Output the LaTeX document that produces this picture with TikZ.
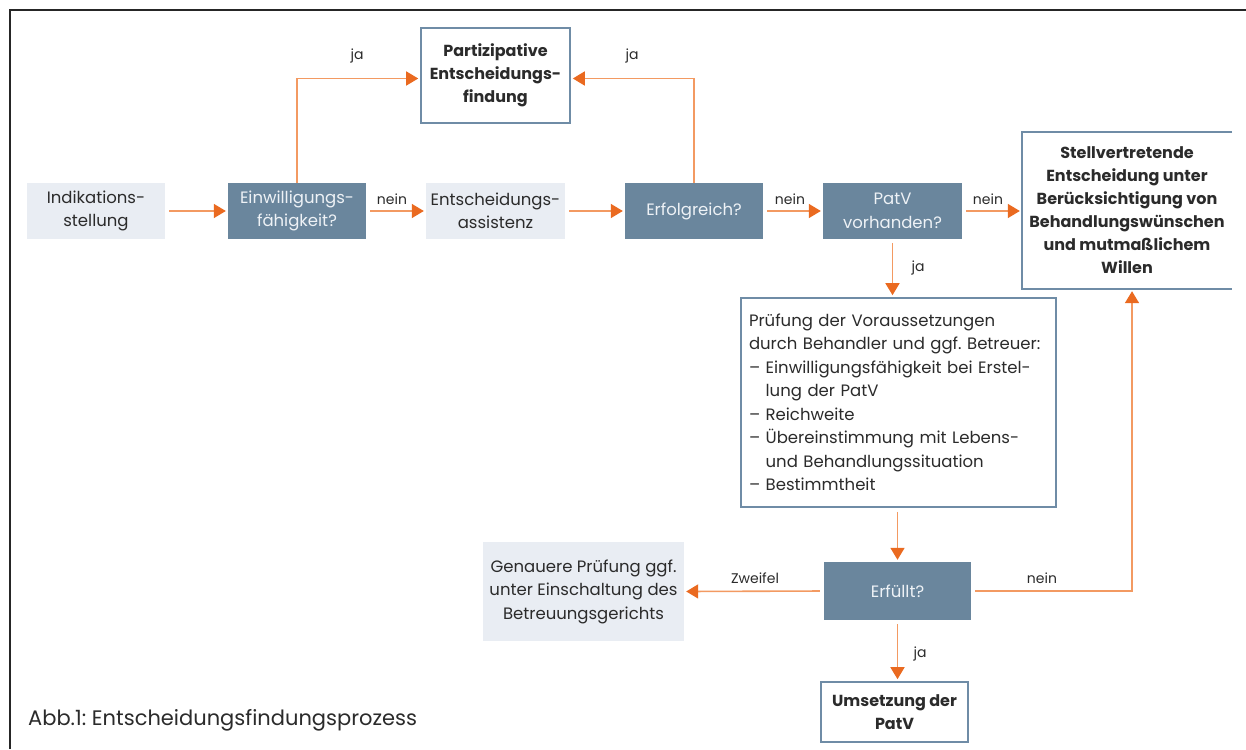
\documentclass[tikz,border=0pt]{standalone}
\usepackage{fontspec}
\setmainfont{Poppins}
\frenchspacing
\usetikzlibrary{arrows.meta}
\definecolor{darkbox}{HTML}{6A869D}
\definecolor{lightbox}{HTML}{E9EDF3}
\definecolor{framecol}{HTML}{6F8CA6}
\definecolor{orangeline}{HTML}{F39A62}
\definecolor{orangehead}{HTML}{EA6A20}
\definecolor{txt}{HTML}{2B2B2B}
\definecolor{lighttxt}{HTML}{EEF2F6}
\tikzset{
  base/.style={inner sep=2pt, align=center, text=txt, font=\fontsize{16.5}{23.5}\selectfont},
  lightnode/.style={base, fill=lightbox},
  darknode/.style={base, fill=darkbox, text=lighttxt},
  boldfont/.style={font=\bfseries\fontsize{16}{23}\selectfont},
  whitenode/.style={base, fill=white, draw=framecol, line width=1.6pt, boldfont},
  conn/.style={draw=orangeline, line width=1.6pt, -{Triangle[width=14pt,length=12pt,color=orangehead]}, shorten <=4pt, shorten >=2pt},
  lbl/.style={text=txt, font=\fontsize{14}{16}\selectfont, inner sep=0pt}
}
\begin{document}
\begin{tikzpicture}[x=1pt,y=-1pt]
\useasboundingbox (0,0) rectangle (1246,749);
\fill[white] (0,0) rectangle (1246,749);
\draw[line width=1.6pt, color=black!85] (10,749) -- (10,10) -- (1246,10);

\node[lightnode, minimum width=138pt, minimum height=56pt] (ind) at (96,211) {Indikations-\\stellung};
\node[darknode, minimum width=138pt, minimum height=56pt] (einw) at (297,211) {Einwilligungs-\\fähigkeit?};
\node[whitenode, minimum width=149pt, minimum height=95pt] (part) at (495.5,75.5) {Partizipative\\Entscheidungs-\\findung};
\node[lightnode, minimum width=139pt, minimum height=56pt] (ass) at (495.5,211) {Entscheidungs-\\assistenz};
\node[darknode, minimum width=138pt, minimum height=56pt] (erf) at (694,211) {Erfolgreich?};
\node[darknode, minimum width=139pt, minimum height=56pt] (patv) at (892.5,211) {PatV\\vorhanden?};
\node[base, fill=white, boldfont, minimum width=210pt, minimum height=157pt] (stell) at (1127,210.5) {Stellvertretende\\Entscheidung unter\\Berücksichtigung von\\Behandlungswünschen\\und mutmaßlichem\\Willen};
\draw[framecol, line width=1.6pt] (stell.north east) -- (stell.north west) -- (stell.south west) -- (stell.south east);
\node[base, fill=white, draw=framecol, line width=1.6pt, align=left, minimum width=315pt, minimum height=209pt, text width=299pt, inner xsep=8pt] (pruef) at (898.5,402.5) {Prüfung der Voraussetzungen\\durch Behandler und ggf. Betreuer:\\– Einwilligungsfähigkeit bei Erstel-\\\phantom{– }lung der PatV\\– Reichweite\\– Übereinstimmung mit Lebens-\\\phantom{– }und Behandlungssituation\\– Bestimmtheit};
\node[darknode, minimum width=147pt, minimum height=58pt] (erfu) at (897.5,591) {Erfüllt?};
\node[lightnode, minimum width=201pt, minimum height=99pt] (gen) at (583.5,591.5) {Genauere Prüfung ggf.\\unter Einschaltung des\\Betreuungsgerichts};
\node[whitenode, minimum width=147pt, minimum height=60pt] (ums) at (894.5,712) {Umsetzung der\\PatV};

\node[lbl, anchor=west] (cap) at (28,720) {\fontsize{21}{23}\selectfont Abb.1: Entscheidungsfindungsprozess};

\draw[conn] (ind) -- (einw);
\draw[conn] (einw) -- (ass);
\draw[conn] (ass) -- (erf);
\draw[conn] (erf) -- (patv);
\draw[conn] (patv) -- (stell.west |- patv);
\draw[conn, shorten <=0pt] (einw.north) |- ([yshift=-3pt]part.west);
\draw[conn, shorten <=0pt] (erf.north) |- ([yshift=-3pt]part.east);
\draw[conn] (patv.south) -- (pruef.north -| patv.south);
\draw[conn] (pruef.south -| erfu.north) -- (erfu.north);
\draw[conn] (erfu.west) -- (gen.east);
\draw[conn] (erfu.east) -| ([xshift=5pt]stell.south);
\draw[conn] (erfu.south) -- (ums.north -| erfu.south);

\node[lbl] (l1) at (357,56) {ja};
\node[lbl] (l2) at (632,56) {ja};
\node[lbl] (l3) at (392,199) {nein};
\node[lbl] (l4) at (790,199) {nein};
\node[lbl] (l5) at (988,199) {nein};
\node[lbl] (l6) at (918,268) {ja};
\node[lbl] (l7) at (755,578) {Zweifel};
\node[lbl] (l8) at (1042,578) {nein};
\node[lbl] (l9) at (920,654) {ja};
\end{tikzpicture}
\end{document}
